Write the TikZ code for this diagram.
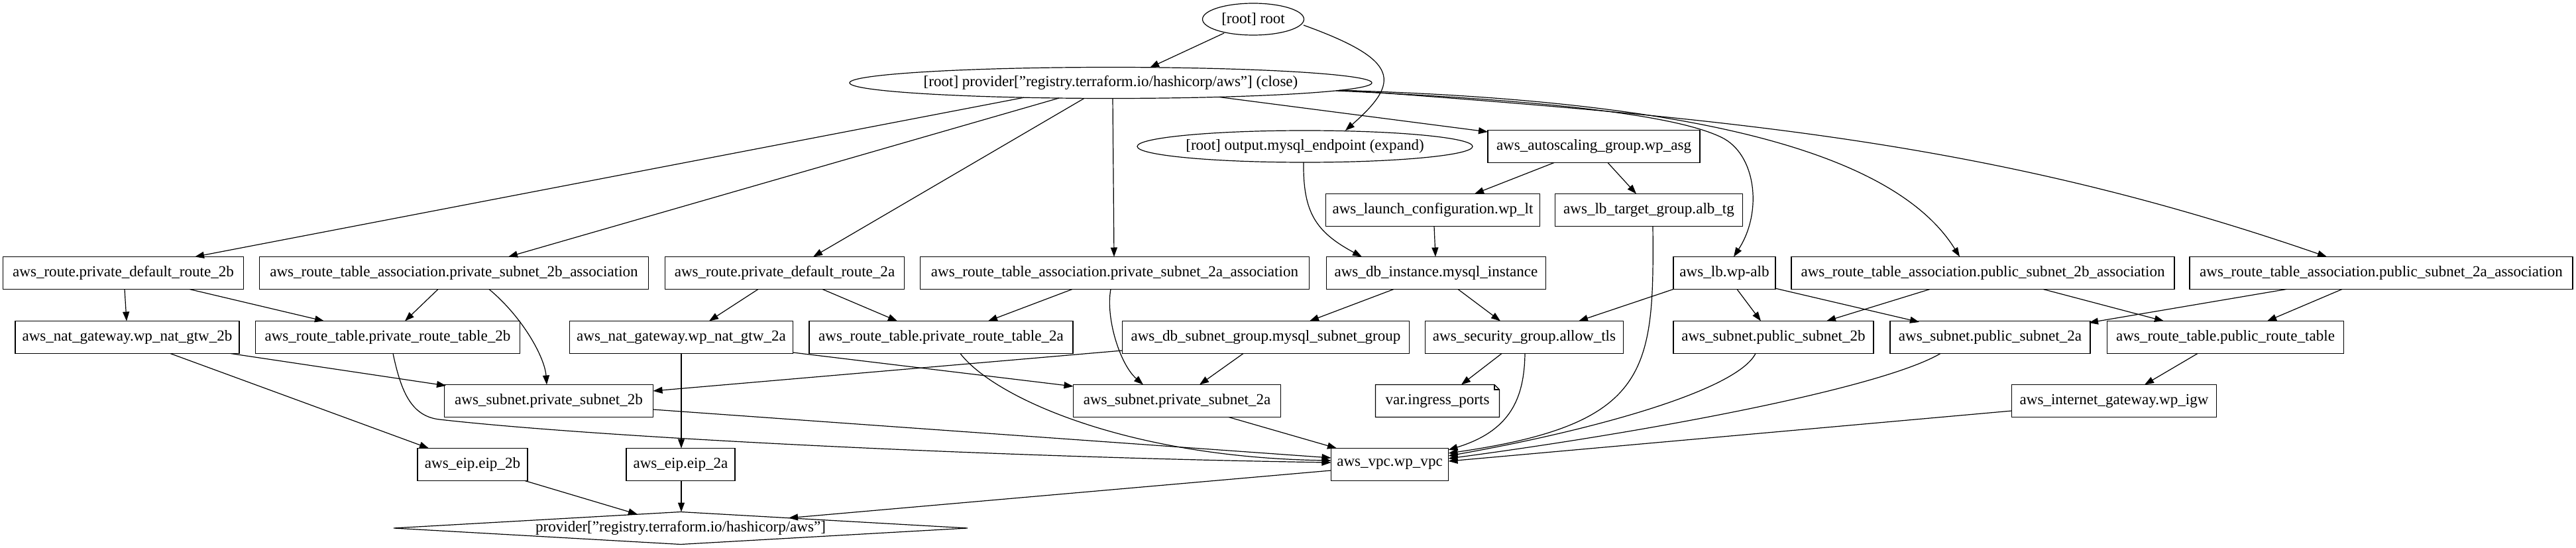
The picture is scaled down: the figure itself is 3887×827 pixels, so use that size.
\documentclass[tikz,border=0pt]{standalone}
\usepackage{fontspec}
\setmainfont{Liberation Serif}
\usetikzlibrary{arrows.meta,calc,shapes.geometric}
\begin{document}
\begin{tikzpicture}[x=0.75pt,y=-0.75pt,
  every node/.style={font=\fontsize{17.3}{20}\selectfont, inner sep=0pt},
  box/.style={draw, rectangle, minimum height=36.75pt, line width=0.9pt},
  ell/.style={draw, ellipse, inner xsep=-20pt, inner ysep=0pt, line width=0.9pt},
  arr/.style={line width=0.9pt, -{Triangle[length=10.5pt,width=7.5pt]}},
  outline/.style={line width=0.9pt}]
\fill[white] (0,0) rectangle (3887,827);
\useasboundingbox (0,0) rectangle (3887,827);

% ellipses
\node[ell, minimum width=114.75pt, minimum height=36pt] (root) at (1891,29) {[root] root};
\node[ell, minimum width=591pt, minimum height=35.25pt] (pclose) at (1676,125) {[root] provider["registry.terraform.io/hashicorp/aws"] (close)};
\node[ell, minimum width=379.5pt, minimum height=36pt] (out) at (1969,221) {[root] output.mysql\_endpoint (expand)};

% row 2-3
\node[box, minimum width=240pt] (asg) at (2405,221) {aws\_autoscaling\_group.wp\_asg};
\node[box, minimum width=242.25pt] (lc) at (2162,317) {aws\_launch\_configuration.wp\_lt};
\node[box, minimum width=212.25pt] (tg) at (2488,317) {aws\_lb\_target\_group.alb\_tg};

% row 4
\node[box, minimum width=272.25pt] (r2b) at (186,412) {aws\_route.private\_default\_route\_2b};
\node[box, minimum width=440.25pt] (a2b) at (685,412) {aws\_route\_table\_association.private\_subnet\_2b\_association};
\node[box, minimum width=270.75pt] (r2a) at (1184,412) {aws\_route.private\_default\_route\_2a};
\node[box, minimum width=440.25pt] (a2a) at (1682,412) {aws\_route\_table\_association.private\_subnet\_2a\_association};
\node[box, minimum width=248.25pt] (db) at (2167,412) {aws\_db\_instance.mysql\_instance};
\node[box, minimum width=115.5pt] (alb) at (2602,412) {aws\_lb.wp-alb};
\node[box, minimum width=433.5pt] (pa2b) at (2992,412) {aws\_route\_table\_association.public\_subnet\_2b\_association};
\node[box, minimum width=433.5pt] (pa2a) at (3593,412) {aws\_route\_table\_association.public\_subnet\_2a\_association};

% row 5
\node[box, minimum width=253.5pt] (n2b) at (192,509) {aws\_nat\_gateway.wp\_nat\_gtw\_2b};
\node[box, minimum width=299.25pt] (rt2b) at (585,509) {aws\_route\_table.private\_route\_table\_2b};
\node[box, minimum width=252.75pt] (n2a) at (1028,509) {aws\_nat\_gateway.wp\_nat\_gtw\_2a};
\node[box, minimum width=298.5pt] (rt2a) at (1420,509) {aws\_route\_table.private\_route\_table\_2a};
\node[box, minimum width=324.75pt] (dsg) at (1910,509) {aws\_db\_subnet\_group.mysql\_subnet\_group};
\node[box, minimum width=224.25pt] (sg) at (2300,509) {aws\_security\_group.allow\_tls};
\node[box, minimum width=226.5pt] (ps2b) at (2676,509) {aws\_subnet.public\_subnet\_2b};
\node[box, minimum width=226.5pt] (ps2a) at (3003,509) {aws\_subnet.public\_subnet\_2a};
\node[box, minimum width=267.75pt] (prt) at (3358,509) {aws\_route\_table.public\_route\_table};

% row 6
\node[box, minimum width=236.25pt] (s2b) at (828,605) {aws\_subnet.private\_subnet\_2b};
\node[box, minimum width=234.75pt] (s2a) at (1776,605) {aws\_subnet.private\_subnet\_2a};
\node[minimum width=140.25pt, minimum height=36.75pt] (var) at (2169,605) {var.ingress\_ports};
\node[box, minimum width=231.75pt] (igw) at (3190,605) {aws\_internet\_gateway.wp\_igw};

% row 7
\node[box, minimum width=124.5pt] (e2b) at (713,701) {aws\_eip.eip\_2b};
\node[box, minimum width=123pt] (e2a) at (1027,701) {aws\_eip.eip\_2a};
\node[box, minimum width=132.75pt] (vpc) at (2097,701) {aws\_vpc.wp\_vpc};

% row 8
\node[minimum width=649.5pt, minimum height=36.75pt] (prov) at (1027,797) {provider["registry.terraform.io/hashicorp/aws"]};

% note shape outline
\draw[outline] ($(var)+(-93.5,-24.5)$) -- ($(var)+(86,-24.5)$) -- ($(var)+(93.5,-17)$) -- ($(var)+(93.5,24.5)$) -- ($(var)+(-93.5,24.5)$) -- cycle;
\draw[outline] ($(var)+(86,-24.5)$) -- ($(var)+(86,-17)$) -- ($(var)+(93.5,-17)$);
% diamond outline
\draw[outline] ($(prov)+(-433,0)$) -- ($(prov)+(0,-24.5)$) -- ($(prov)+(433,0)$) -- ($(prov)+(0,24.5)$) -- cycle;

% edges from root
\draw[arr] ($(root)+(-44,21)$) -- ($(pclose)+(59,-23)$);
\draw[arr] ($(root)+(76,9)$) .. controls (2114,91) and (2113,124) .. ($(out)+(61,-24)$);

% edges from provider (close)
\draw[arr] ($(pclose)+(-131,22.2)$) -- ($(r2b)+(108,-24.5)$);
\draw[arr] ($(pclose)+(-78,23)$) -- ($(a2b)+(82,-24.5)$);
\draw[arr] ($(pclose)+(-40,23.4)$) -- ($(r2a)+(43,-24.5)$);
\draw[arr] ($(pclose)+(3,23.5)$) -- ($(a2a)+(-1,-24.5)$);
\draw[arr] ($(pclose)+(163,21.4)$) -- ($(asg)+(-160,-22)$);
\draw[arr] ($(pclose)+(340,12)$) .. controls (2300,150) and (2520,170) .. (2597,207) .. controls (2650,232) and (2660,320) .. ($(alb)+(14,-24.5)$);
\draw[arr] ($(pclose)+(345,11.3)$) .. controls (2500,150) and (2850,215) .. ($(pa2b)+(-35,-24.5)$);
\draw[arr] ($(pclose)+(350,10.8)$) .. controls (2626,180) and (3011,215) .. ($(pa2a)+(-82,-24.5)$);

% output / asg / lc / tg
\draw[arr] ($(out)+(-2,24)$) .. controls (1966,320) and (1985,350) .. ($(db)+(-112,-24.5)$);
\draw[arr] ($(asg)+(-60,24.5)$) -- ($(lc)+(63,-24.5)$);
\draw[arr] ($(asg)+(21,24.5)$) -- ($(tg)+(-19,-24.5)$);
\draw[arr] ($(lc)+(2,24.5)$) -- ($(db)+(-1,-24.5)$);
\draw[arr] ($(tg)+(6,24.5)$) .. controls (2496,560) and (2490,640) .. ($(vpc)+(88.5,-17)$);

% alb
\draw[arr] ($(alb)+(-77,24.5)$) -- ($(sg)+(82,-24.5)$);
\draw[arr] ($(alb)+(19,24.5)$) -- ($(ps2b)+(-19,-24.5)$);
\draw[arr] ($(alb)+(76,23)$) -- ($(ps2a)+(-107,-23)$);

% public associations
\draw[arr] ($(pa2b)+(-80,24.5)$) -- ($(ps2b)+(80,-24.5)$);
\draw[arr] ($(pa2b)+(91,24.5)$) -- ($(prt)+(-93,-24.5)$);
\draw[arr] ($(pa2a)+(-143,24.5)$) -- ($(ps2a)+(149,-22)$);
\draw[arr] ($(pa2a)+(-59,24.5)$) -- ($(prt)+(63,-24.5)$);
\draw[arr] ($(prt)+(-42,24.5)$) -- ($(igw)+(46,-24.5)$);

% to vpc from the right
\draw[arr] ($(igw)+(-154.5,15)$) -- ($(vpc)+(88.5,-5)$);
\draw[arr] ($(ps2a)+(-75,24.5)$) .. controls (2840,585) and (2500,650) .. ($(vpc)+(88.5,-9)$);
\draw[arr] ($(ps2b)+(-27,24.5)$) .. controls (2620,590) and (2400,650) .. ($(vpc)+(88.5,-13)$);
\draw[arr] ($(sg)+(1,24.5)$) .. controls (2300,600) and (2280,650) .. ($(vpc)+(88.5,-22)$);
\draw[arr] ($(sg)+(-34,24.5)$) -- ($(var)+(36,-24.5)$);

% db instance
\draw[arr] ($(db)+(-64,24.5)$) -- ($(dsg)+(66,-24.5)$);
\draw[arr] ($(db)+(33,24.5)$) -- ($(sg)+(-36,-24.5)$);
\draw[arr] ($(dsg)+(-34,24.5)$) -- ($(s2a)+(34,-24.5)$);
\draw[arr] ($(dsg)+(-216.5,20)$) -- ($(s2b)+(157.5,-15)$);

% private 2a
\draw[arr] ($(a2a)+(-64,24.5)$) -- ($(rt2a)+(71,-24.5)$);
\draw[arr] ($(a2a)+(-6,24.5)$) .. controls (1668,480) and (1690,550) .. ($(s2a)+(-51,-24.5)$);
\draw[arr] ($(r2a)+(-40,24.5)$) -- ($(n2a)+(42,-24.5)$);
\draw[arr] ($(r2a)+(57,24.5)$) -- ($(rt2a)+(-66,-24.5)$);
\draw[arr] ($(n2a)+(0,24.5)$) -- ($(e2a)+(1,-24.5)$);
\draw[arr] ($(n2a)+(168.5,23)$) -- ($(s2a)+(-156.5,-22)$);
\draw[arr] ($(rt2a)+(29,24.5)$) .. controls (1500,600) and (1700,690) .. ($(vpc)+(-88.5,-6)$);
\draw[arr] ($(s2a)+(78,24.5)$) -- ($(vpc)+(-80,-24.5)$);

% private 2b
\draw[arr] ($(r2b)+(2,24.5)$) -- ($(n2b)+(-1,-24.5)$);
\draw[arr] ($(r2b)+(100,24.5)$) -- ($(rt2b)+(-96,-24.5)$);
\draw[arr] ($(a2b)+(-24,24.5)$) -- ($(rt2b)+(26,-24.5)$);
\draw[arr] ($(a2b)+(53,24.5)$) .. controls (790,480) and (822,540) .. ($(s2b)+(-3,-24.5)$);
\draw[arr] ($(n2b)+(156,24.5)$) -- ($(s2b)+(-155,-23)$);
\draw[arr] ($(n2b)+(65,24.5)$) -- ($(e2b)+(-66,-24.5)$);
\draw[arr] ($(rt2b)+(8,24.5)$) .. controls (605,590) and (620,628) .. (663,633) .. controls (900,660) and (1500,690) .. ($(vpc)+(-88.5,-3)$);
\draw[arr] ($(s2b)+(157.5,13)$) -- ($(vpc)+(-88.5,-10)$);

% to provider diamond
\draw[arr] ($(e2b)+(79,24.5)$) -- ($(prov)+(-65,-20.8)$);
\draw[arr] ($(e2a)+(1,24.5)$) -- ($(prov)+(1,-24.5)$);
\draw[arr] ($(vpc)+(-88.5,9)$) -- ($(prov)+(163,-15.3)$);
\end{tikzpicture}
\end{document}
